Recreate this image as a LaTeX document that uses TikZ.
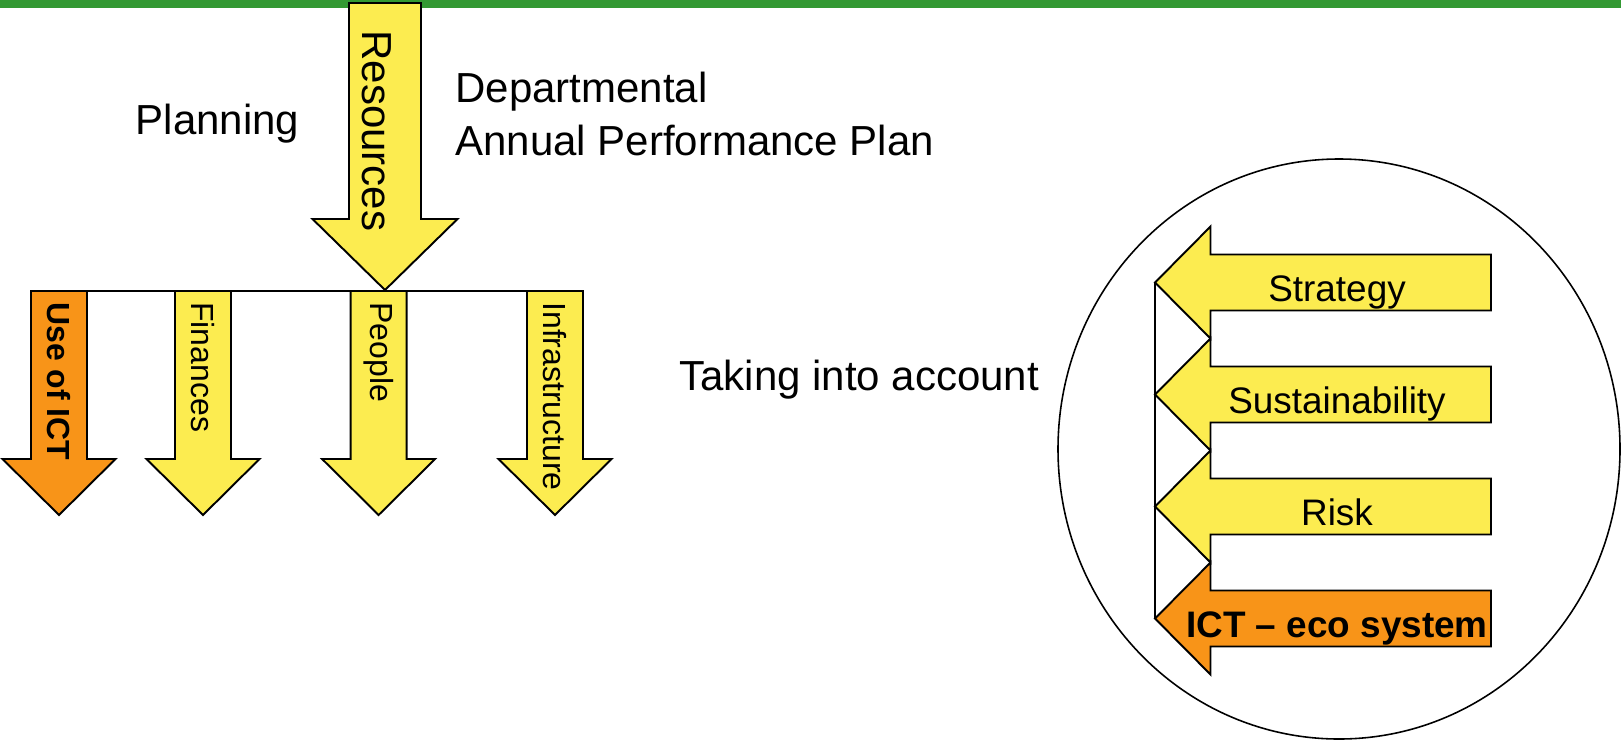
\documentclass[tikz,border=0pt]{standalone}
\usepackage{fontspec}
\setmainfont{Liberation Sans}
\usetikzlibrary{calc}

\definecolor{bargreen}{RGB}{51,153,51}
\definecolor{arrowyellow}{RGB}{252,236,80}
\definecolor{arroworange}{RGB}{248,148,24}

\tikzset{
    shapeline/.style={draw=black, line width=1.1pt, line join=miter},
    bigtext/.style={inner sep=0pt, font=\fontsize{23.9}{28}\selectfont},
    midtext/.style={inner sep=0pt, font=\fontsize{21}{25}\selectfont},
    smalltext/.style={inner sep=0pt, font=\fontsize{18.2}{22}\selectfont},
}

\begin{document}
\begin{tikzpicture}[x=0.02cm, y=-0.02cm]
    \useasboundingbox (0,0) rectangle (1621,741);
    \fill[bargreen] (0,0) rectangle (1621,8);

    % resources arrow
    \draw[shapeline, fill=arrowyellow] (349,3) -- (421,3) -- (421,219) -- (457.5,219)
        -- (385,290) coordinate (restip) -- (312.5,219) -- (349,219) -- cycle;
    \node[bigtext, rotate=-90, anchor=west] (resources) at (377,30) {Resources};

    % the four branches
    \foreach \cx/\name/\fillc/\txt in {59/useict/arroworange/{\bfseries Use of ICT},
        203/finances/arrowyellow/Finances, 378.6/people/arrowyellow/People,
        555/infra/arrowyellow/Infrastructure}{
        \draw[shapeline, fill=\fillc] (\cx-28,291) coordinate (\name-tl) -- (\cx+28,291) coordinate (\name-tr)
            -- (\cx+28,459) -- (\cx+56.5,459) -- (\cx,515) -- (\cx-56.5,459) -- (\cx-28,459) -- cycle;
        \node[smalltext, rotate=-90, anchor=west] (\name) at (\cx,302) {\txt};
    }
    \draw[line width=1.1pt] (useict-tl) -- (infra-tr);

    \node[bigtext, anchor=base west] (planning) at (135.5,134) {Planning};
    \node[bigtext, anchor=base west] (dept) at (455,102.7) {Departmental};
    \node[bigtext, anchor=base west] (app) at (455,155) {Annual Performance Plan};
    \node[bigtext, anchor=base west] (account) at (679,390) {Taking into account};

    % circle with the factors
    \draw[line width=0.9pt] (1339,449) ellipse [x radius=281, y radius=290];
    \foreach \cy/\name/\fillc/\txt in {282.5/strategy/arrowyellow/Strategy,
        394.5/sustain/arrowyellow/Sustainability, 506.5/risk/arrowyellow/Risk,
        618.5/ictsys/arroworange/{\bfseries ICT – eco system}}{
        \draw[shapeline, fill=\fillc] (1491,\cy-28) -- (1491,\cy+28) -- (1210.5,\cy+28) -- (1210.5,\cy+56)
            -- (1155,\cy) coordinate (\name-tip) -- (1210.5,\cy-56) -- (1210.5,\cy-28) -- cycle;
        \node[midtext, anchor=base] (\name) at (1337,\cy+18.5) {\txt};
    }
    \draw[line width=1.1pt] (strategy-tip) -- (ictsys-tip);
\end{tikzpicture}
\end{document}
